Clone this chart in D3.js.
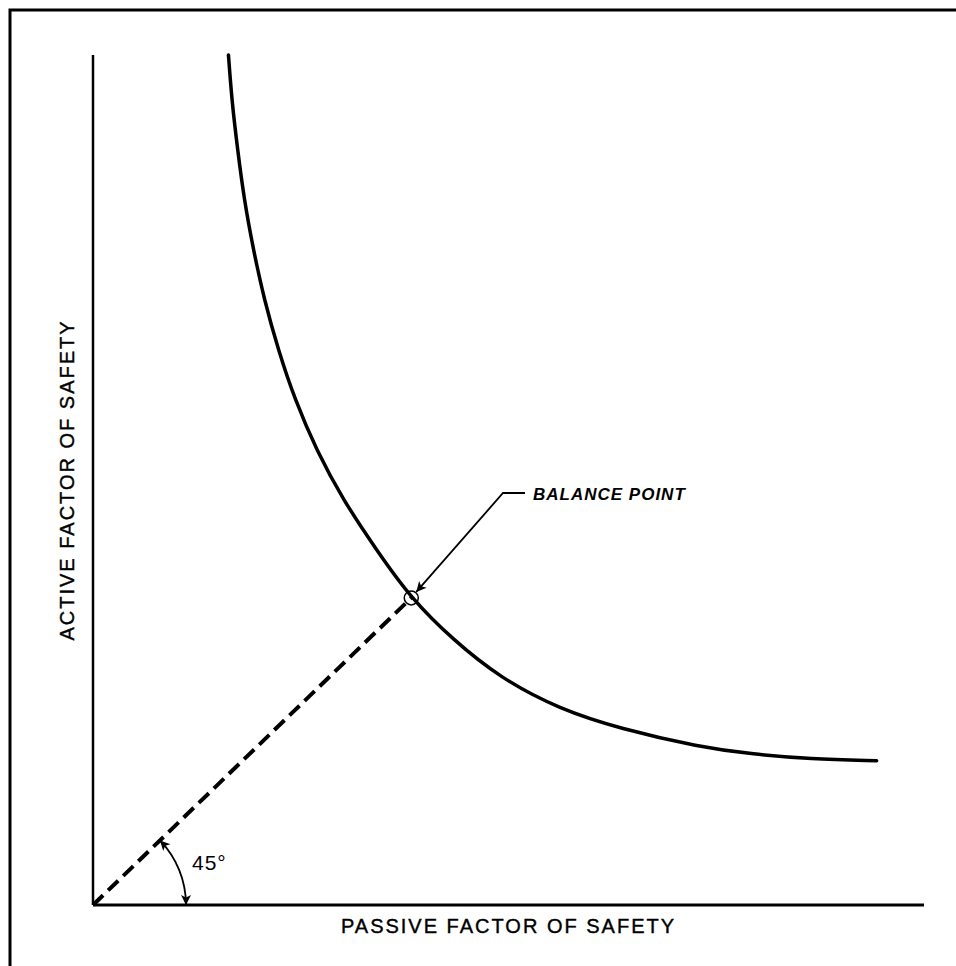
<!DOCTYPE html>
<html>
<head>
<meta charset="utf-8">
<script src="https://cdnjs.cloudflare.com/ajax/libs/d3/7.8.5/d3.min.js"></script>
<style>
  body { margin: 0; background: #fff; }
  svg { display: block; }
  text { font-family: "Liberation Sans", Arial, sans-serif; fill: #000; }
</style>
</head>
<body>
<div id="chart"></div>
<script>
'use strict';

// curve: passive FS (x) vs active FS (y)
var passiveFS = [1.63, 1.67, 1.74, 1.82, 1.93, 2.06, 2.23, 2.43, 2.69, 3.01, 3.41, 3.83, 4.33, 4.90, 5.62, 6.34, 7.30, 7.94, 8.63, 9.43];
var activeFS  = [10.6, 10.04, 9.42, 8.79, 8.17, 7.55, 6.92, 6.30, 5.67, 5.05, 4.43, 3.82, 3.31, 2.83, 2.44, 2.20, 1.97, 1.88, 1.82, 1.80];

// balance point sits on the 45 degree line
var balance = [3.83, 3.83];

var xDomain = [0, 10];
var yDomain = [0, 10.6];

var labels = {
    x: 'PASSIVE FACTOR OF SAFETY',
    y: 'ACTIVE FACTOR OF SAFETY',
    point: 'BALANCE POINT',
    angle: '45°'
};

var width = 956, height = 966;

var svg = d3.select('#chart').append('svg')
    .attr('width', width)
    .attr('height', height);

// frame (only top and left edges fall inside the picture)
svg.append('path')
    .attr('d', 'M10,' + height + 'V10H' + width)
    .attr('fill', 'none')
    .attr('stroke', '#000')
    .attr('stroke-width', 3);

var x = d3.scaleLinear().domain(xDomain).range([93, 924]);
var y = d3.scaleLinear().domain(yDomain).range([905, 55]);

var defs = svg.append('defs');
defs.append('marker')
    .attr('id', 'arrow')
    .attr('viewBox', '0 0 10 10')
    .attr('refX', 10).attr('refY', 5)
    .attr('markerWidth', 16).attr('markerHeight', 10)
    .attr('markerUnits', 'userSpaceOnUse')
    .attr('orient', 'auto-start-reverse')
    .append('path')
    .attr('d', 'M0,0L10,5L0,10L2.5,5Z')
    .attr('fill', '#000');

// axes
svg.append('line')
    .attr('x1', x(0)).attr('y1', y(0))
    .attr('x2', x(0)).attr('y2', y(yDomain[1]))
    .attr('stroke', '#000').attr('stroke-width', 2.5);
svg.append('line')
    .attr('x1', x(0)).attr('y1', y(0))
    .attr('x2', x(xDomain[1])).attr('y2', y(0))
    .attr('stroke', '#000').attr('stroke-width', 3);

// axis titles
svg.append('text')
    .attr('x', (x(0) + x(xDomain[1])) / 2)
    .attr('y', 933)
    .attr('text-anchor', 'middle')
    .style('font-size', '20px')
    .style('letter-spacing', '2px')
    .style('stroke', '#000').style('stroke-width', 0.4)
    .text(labels.x);

svg.append('text')
    .attr('transform', 'translate(74,' + ((y(0) + y(yDomain[1])) / 2) + ') rotate(-90)')
    .attr('text-anchor', 'middle')
    .style('font-size', '20px')
    .style('letter-spacing', '2px')
    .style('stroke', '#000').style('stroke-width', 0.4)
    .text(labels.y);

// the curve
var pts = passiveFS.map(function (d, i) { return [d, activeFS[i]]; });
var line = d3.line()
    .x(function (d) { return x(d[0]); })
    .y(function (d) { return y(d[1]); })
    .curve(d3.curveBasis);

svg.append('path')
    .datum(pts)
    .attr('d', line)
    .attr('fill', 'none')
    .attr('stroke', '#000')
    .attr('stroke-width', 3.5)
    .attr('stroke-linecap', 'round');

// 45 degree dashed line
svg.append('line')
    .attr('x1', x(0)).attr('y1', y(0))
    .attr('x2', x(balance[0])).attr('y2', y(balance[1]))
    .attr('stroke', '#000')
    .attr('stroke-width', 4)
    .attr('stroke-dasharray', '14,7');

// balance point circle
var bx = x(balance[0]), by = y(balance[1]);
svg.append('circle')
    .attr('cx', bx).attr('cy', by).attr('r', 7)
    .attr('fill', 'none')
    .attr('stroke', '#000')
    .attr('stroke-width', 1.5);

// leader + label
svg.append('path')
    .attr('d', 'M525,493H503L' + (bx + 5) + ',' + (by - 6))
    .attr('fill', 'none')
    .attr('stroke', '#000')
    .attr('stroke-width', 1.8)
    .attr('marker-end', 'url(#arrow)');

svg.append('text')
    .attr('x', 533).attr('y', 500)
    .style('font-size', '17px')
    .style('font-style', 'italic')
    .style('font-weight', 'bold')
    .style('letter-spacing', '1px')
    .text(labels.point);

// 45 degree angle arc with arrows on both ends
var ang = Math.atan2(y(0) - by, bx - x(0));
var r = 93;
var ox = x(0), oy = y(0);
var arc = 'M' + (ox + r * Math.cos(ang)) + ',' + (oy - r * Math.sin(ang)) +
    'A' + r + ',' + r + ' 0 0 1 ' + (ox + r) + ',' + oy;
svg.append('path')
    .attr('d', arc)
    .attr('fill', 'none')
    .attr('stroke', '#000')
    .attr('stroke-width', 1.8)
    .attr('marker-start', 'url(#arrow)')
    .attr('marker-end', 'url(#arrow)');

svg.append('text')
    .attr('x', 192).attr('y', 870)
    .style('font-size', '21px')
    .style('letter-spacing', '1px')
    .text(labels.angle);
</script>
</body>
</html>
